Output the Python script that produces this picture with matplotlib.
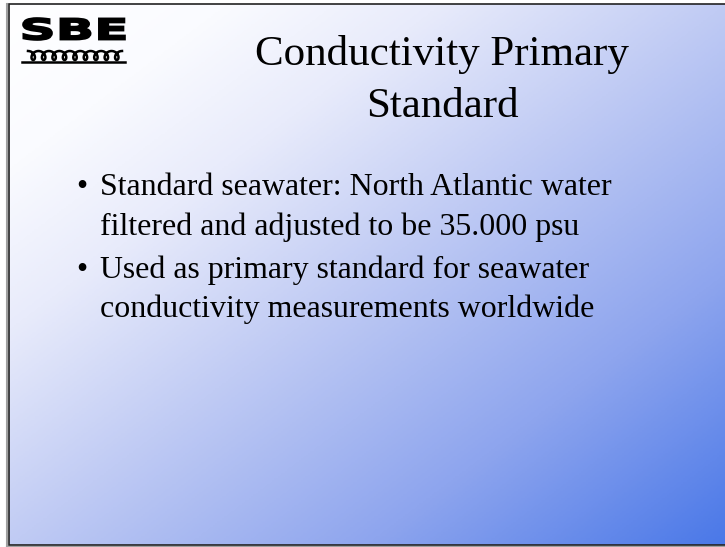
import matplotlib.pyplot as plt
import numpy as np
from matplotlib.colors import LinearSegmentedColormap
from matplotlib.textpath import TextPath
from matplotlib.patches import PathPatch
from matplotlib.font_manager import FontProperties
from matplotlib.transforms import Affine2D

# slide content
title_lines = ["Conductivity Primary", "Standard"]
bullets = [
    ["Standard seawater: North Atlantic water", "filtered and adjusted to be 35.000 psu"],
    ["Used as primary standard for seawater", "conductivity measurements worldwide"],
]
logo_text = "SBE"

W, H = 725, 547
fig = plt.figure(figsize=(W / 100, H / 100), dpi=100)
ax = fig.add_axes([0, 0, 1, 1])
ax.set_xlim(0, W)
ax.set_ylim(H, 0)
ax.axis("off")

# slide area
x0, x1, y0, y1 = 9, 726, 4, 545
ax.add_patch(plt.Rectangle((0, 0), W, H, color="white", zorder=0))

# diagonal gradient background
gx, gy = np.meshgrid(np.linspace(0, 1, 400), np.linspace(0, 1, 300))
t = (gx + gy) / 2
cmap = LinearSegmentedColormap.from_list(
    "bg", [(0, "#ffffff"), (0.15, "#fafbff"), (0.3, "#e8ebfb"), (0.5, "#c0cbf4"),
           (0.75, "#8ea5ee"), (1, "#4a78e8")])
ax.imshow(t, cmap=cmap, extent=(x0, x1, y1, y0), aspect="auto", zorder=1, vmin=0, vmax=1)

# border with shadow
ax.plot([x0 - 1.5, x0 - 1.5], [y0, y1 + 1.5], color="#a0a0a0", lw=1.5, zorder=2)
ax.plot([x0 - 1.5, x1], [y1 + 1.5, y1 + 1.5], color="#a0a0a0", lw=1.5, zorder=2)
ax.add_patch(plt.Rectangle((x0, y0), x1 - x0, y1 - y0, fill=False, ec="#222222", lw=1.2, zorder=3))

# logo: wide heavy letters fitted into a box
lx0, lx1, ly0, ly1 = 23, 125, 18, 40
tp = TextPath((0, 0), logo_text, size=10, prop=FontProperties(family="DejaVu Sans", weight="bold"))
bb = tp.get_extents()
tr = (Affine2D().translate(-bb.x0, -bb.y0)
      .scale((lx1 - lx0) / bb.width, -(ly1 - ly0) / bb.height)
      .translate(lx0, ly1))
ax.add_patch(PathPatch(tr.transform_path(tp), fc="black", ec="black", lw=1.2, zorder=4))

# logo waves
n_loops = 9
s = np.linspace(0, n_loops * 2 * np.pi, 900)
step = (122 - 28) / n_loops
wx = 28 + step * s / (2 * np.pi) + 4.0 * np.sin(s)
wy = 55.5 - 4.5 * np.cos(s)
ax.plot(wx, wy, color="black", lw=1.8, zorder=4)
ax.plot([22, 125], [61.5, 61.5], color="black", lw=1.8, zorder=4)

serif = ["Liberation Serif", "DejaVu Serif"]
fig.canvas.draw()
renderer = fig.canvas.get_renderer()


def fit_size(txt, target_px, size0):
    tmp = ax.text(0, 0, txt, fontsize=size0, family=serif)
    w = tmp.get_window_extent(renderer).width
    tmp.remove()
    return size0 * target_px / w


title_size = fit_size(title_lines[0], 375, 32)
body_size = fit_size(bullets[0][0], 513, 23)

# title
for yb, line in zip([65, 117], title_lines):
    ax.text(442, yb, line, fontsize=title_size, family=serif, ha="center",
            va="baseline", color="black", zorder=4)

# bullets
baselines = [[195, 235], [278, 317]]
for b, ys in zip(bullets, baselines):
    ax.text(76, ys[0], "\u2022", fontsize=body_size, family=serif, ha="left", va="baseline", zorder=4)
    for yb, line in zip(ys, b):
        ax.text(100, yb, line, fontsize=body_size, family=serif, ha="left", va="baseline", zorder=4)

fig.savefig("out.png", dpi=100)
